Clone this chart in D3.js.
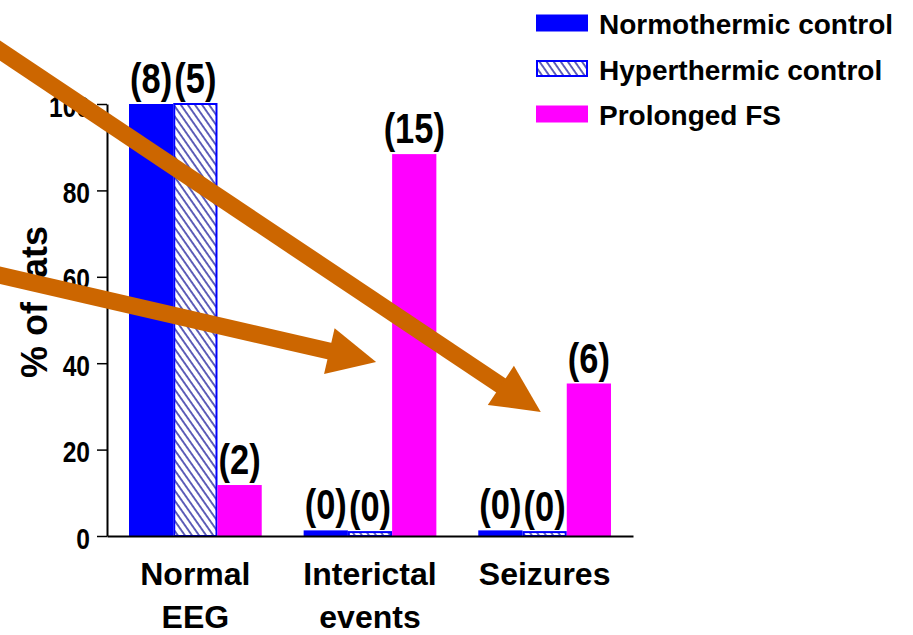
<!DOCTYPE html>
<html>
<head>
<meta charset="utf-8">
<script src="https://cdn.jsdelivr.net/npm/d3@7"></script>
<style>
  body { margin: 0; background: #fff; }
  text { font-family: "Liberation Sans", Arial, sans-serif; font-weight: bold; fill: #000; }
</style>
</head>
<body>
<svg id="chart"></svg>
<script>
// data
let categories = ['Normal EEG', 'Interictal events', 'Seizures'];
let categoryLines = [['Normal', 'EEG'], ['Interictal', 'events'], ['Seizures']];
let series = ['Normothermic control', 'Hyperthermic control', 'Prolonged FS'];
let normothermic = [100, 1.3, 1.3];
let hyperthermic = [100, 0.9, 0.9];
let prolonged = [11.8, 88.4, 35.3];
let counts = [[8, 5, 2], [0, 0, 15], [0, 0, 6]];
let yTicks = [0, 20, 40, 60, 80, 100];

// annotation arrows: start at left edge (value), tip near a bar (category, series, offset px, value)
let arrows = [
  { startValue: 113.9, cat: 'Seizures', ser: 'Prolonged FS', offset: -26, tipValue: 28.7 },
  { startValue: 60.9, cat: 'Interictal events', ser: 'Prolonged FS', offset: -16, tipValue: 40.3 }
];

let config = {
  svg: { width: 913, height: 635 },
  plot: { left: 107, right: 633, top: 104, bottom: 536 }
};

let colors = { blue: '#0000ff', hatch: '#3a3aa8', magenta: '#ff00ff', arrow: '#cc6600' };

function translate(x, y) {
  return 'translate(' + x + ',' + y + ')';
}

let svg = d3.select('#chart')
  .attr('width', config.svg.width)
  .attr('height', config.svg.height);

let defs = svg.append('defs');
let pattern = defs.append('pattern')
  .attr('id', 'hatch')
  .attr('patternUnits', 'userSpaceOnUse')
  .attr('width', 5.8)
  .attr('height', 10)
  .attr('patternTransform', 'rotate(-35)');
pattern.append('rect').attr('width', 5.8).attr('height', 10).attr('fill', '#fff');
pattern.append('line')
  .attr('x1', 1).attr('y1', 0).attr('x2', 1).attr('y2', 10)
  .attr('stroke', colors.hatch).attr('stroke-width', 1.6);

let x = d3.scaleBand()
  .domain(categories)
  .range([config.plot.left, config.plot.right])
  .paddingInner(0.24)
  .paddingOuter(0.126);

let xSub = d3.scaleBand()
  .domain(series)
  .range([0, x.bandwidth()]);

let y = d3.scaleLinear()
  .domain([0, 100])
  .range([config.plot.bottom, config.plot.top]);

let rows = [];
categories.forEach((c, i) => {
  rows.push({ cat: c, ser: series[0], value: normothermic[i], n: counts[i][0] });
  rows.push({ cat: c, ser: series[1], value: hyperthermic[i], n: counts[i][1] });
  rows.push({ cat: c, ser: series[2], value: prolonged[i], n: counts[i][2] });
});

// bars
let plot = svg.append('g').attr('id', 'plot');
plot.selectAll('.bar')
  .data(rows)
  .enter().append('rect')
  .attr('class', 'bar')
  .attr('x', d => x(d.cat) + xSub(d.ser) + (d.ser === series[1] ? 1 : 0))
  .attr('width', d => xSub.bandwidth() - (d.ser === series[1] ? 2 : 0))
  .attr('y', d => y(d.value))
  .attr('height', d => y(0) - y(d.value))
  .attr('fill', d => d.ser === series[0] ? colors.blue : d.ser === series[1] ? 'url(#hatch)' : colors.magenta)
  .attr('stroke', d => d.ser === series[1] ? colors.blue : 'none')
  .attr('stroke-width', 2);

// counts above bars (narrow bold)
plot.selectAll('.count')
  .data(rows)
  .enter().append('text')
  .attr('class', 'count')
  .attr('transform', d => translate(x(d.cat) + xSub(d.ser) + xSub.bandwidth() / 2, y(d.value) - 11) + ' scale(0.82,1)')
  .attr('text-anchor', 'middle')
  .style('font-size', '42px')
  .text(d => '(' + d.n + ')');

// y axis
let yAxis = d3.axisLeft(y)
  .tickValues(yTicks)
  .tickSize(10)
  .tickSizeOuter(0)
  .tickPadding(7);
let yGroup = svg.append('g').attr('transform', translate(config.plot.left, 0)).call(yAxis);
yGroup.select('.domain').attr('stroke', '#000').attr('stroke-width', 2);
yGroup.selectAll('.tick line').attr('stroke', '#000').attr('stroke-width', 1.5);
yGroup.selectAll('.tick text')
  .attr('x', -17 / 0.82)
  .attr('dy', '0.4em')
  .attr('transform', 'scale(0.82,1)')
  .style('font-size', '30px')
  .style('font-family', '"Liberation Sans", Arial, sans-serif')
  .style('font-weight', 'bold')
  .attr('fill', '#000');

// x axis
let xAxis = d3.axisBottom(x).tickSize(0).tickSizeOuter(0).tickFormat('');
let xGroup = svg.append('g').attr('transform', translate(0, config.plot.bottom)).call(xAxis);
xGroup.select('.domain').attr('stroke', '#000').attr('stroke-width', 2);

categories.forEach((c, i) => {
  let t = svg.append('text')
    .attr('text-anchor', 'middle')
    .style('font-size', '32px');
  categoryLines[i].forEach((line, j) => {
    t.append('tspan')
      .attr('x', x(c) + x.bandwidth() / 2)
      .attr('y', 585 + j * 43)
      .text(line);
  });
});

// y axis title
svg.append('text')
  .attr('transform', translate(47, 302) + ' rotate(-90)')
  .attr('text-anchor', 'middle')
  .style('font-size', '36px')
  .text('% of rats');

// legend
let legend = svg.append('g').attr('transform', translate(536, 0));
series.forEach((s, i) => {
  let row = legend.append('g').attr('transform', translate(0, 23 + i * 45.5));
  row.append('rect')
    .attr('x', i === 1 ? 1 : 0)
    .attr('y', i === 1 ? -7.5 : -8.5)
    .attr('width', i === 1 ? 50 : 52)
    .attr('height', i === 1 ? 15 : 17)
    .attr('fill', i === 0 ? colors.blue : i === 1 ? 'url(#hatch)' : colors.magenta)
    .attr('stroke', i === 1 ? colors.blue : 'none')
    .attr('stroke-width', 2);
  row.append('text')
    .attr('x', 63)
    .attr('y', 11)
    .style('font-size', '28px')
    .text(s);
});

// orange annotation arrows
let ann = svg.append('g').attr('id', 'arrows');
arrows.forEach(a => {
  let x0 = -10, y0 = y(a.startValue);
  let tx = x(a.cat) + xSub(a.ser) + a.offset, ty = y(a.tipValue);
  let dx = tx - x0, dy = ty - y0, len = Math.hypot(dx, dy);
  let ux = dx / len, uy = dy / len;
  let headLen = 48, headW = 47;
  let bx = tx - ux * headLen, by = ty - uy * headLen;
  ann.append('line')
    .attr('x1', x0).attr('y1', y0)
    .attr('x2', bx + ux * 2).attr('y2', by + uy * 2)
    .attr('stroke', colors.arrow)
    .attr('stroke-width', 17);
  ann.append('polygon')
    .attr('points', [
      [tx, ty],
      [bx - uy * headW / 2, by + ux * headW / 2],
      [bx + uy * headW / 2, by - ux * headW / 2]
    ].map(p => p.join(',')).join(' '))
    .attr('fill', colors.arrow);
});
</script>
</body>
</html>
